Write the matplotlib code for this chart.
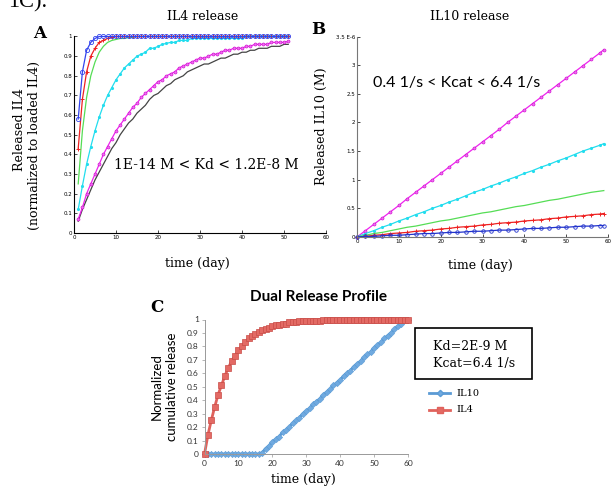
import matplotlib
matplotlib.use("Agg")
import matplotlib.pyplot as plt
from matplotlib.patches import Rectangle
from matplotlib.lines import Line2D

W, H = 616, 487

# ---- panel A: IL4 release, days 1..51 ----
days_a = list(range(1, 52))
il4_blue = [0.58, 0.82, 0.93, 0.97, 0.99] + [1.0] * 46
il4_red = [0.43, 0.68, 0.82, 0.90, 0.94, 0.97, 0.98, 0.99, 0.995] + [1.0] * 42
il4_green = [0.25, 0.52, 0.69, 0.80, 0.87, 0.92, 0.95, 0.97, 0.98, 0.985,
             0.99, 0.99, 0.995, 0.995] + [1.0] * 37
il4_cyan = [0.12, 0.24, 0.35, 0.44, 0.52, 0.59, 0.65, 0.70, 0.74, 0.78,
            0.81, 0.84, 0.86, 0.88, 0.90, 0.91, 0.92, 0.94, 0.94, 0.95,
            0.96, 0.965, 0.97, 0.97, 0.98, 0.98, 0.98, 0.99, 0.99, 0.99] + [0.99] * 10 + [1.0] * 11
il4_magenta = [0.07, 0.13, 0.20, 0.25, 0.30, 0.35, 0.40, 0.44, 0.48, 0.52,
               0.55, 0.58, 0.61, 0.64, 0.66, 0.69, 0.71, 0.73, 0.75, 0.77,
               0.78, 0.80, 0.81, 0.82, 0.84, 0.85, 0.86, 0.87, 0.88, 0.89,
               0.89, 0.90, 0.91, 0.91, 0.92, 0.93, 0.93, 0.94, 0.94, 0.94,
               0.95, 0.95, 0.96, 0.96, 0.96, 0.96, 0.97, 0.97, 0.97, 0.97, 0.975]
il4_black = [0.06, 0.12, 0.17, 0.22, 0.27, 0.31, 0.35, 0.39, 0.43, 0.46,
             0.50, 0.53, 0.56, 0.58, 0.61, 0.63, 0.65, 0.68, 0.70, 0.71,
             0.73, 0.75, 0.76, 0.78, 0.79, 0.80, 0.82, 0.83, 0.84, 0.85,
             0.86, 0.86, 0.87, 0.88, 0.89, 0.89, 0.90, 0.91, 0.91, 0.92,
             0.92, 0.93, 0.93, 0.94, 0.94, 0.94, 0.95, 0.95, 0.95, 0.96, 0.96]

# ---- panel B: IL10 release (x1E-6 M), every 2 days ----
days_b = list(range(0, 59, 2)) + [59]
il10_magenta = [0, 0.11, 0.22, 0.33, 0.44, 0.55, 0.67, 0.78, 0.89, 1.00, 1.11,
                1.22, 1.33, 1.44, 1.55, 1.66, 1.77, 1.88, 2.00, 2.11, 2.22,
                2.33, 2.44, 2.55, 2.66, 2.77, 2.88, 2.99, 3.10, 3.21, 3.27]
il10_cyan = [0, 0.06, 0.11, 0.17, 0.22, 0.28, 0.33, 0.39, 0.44, 0.50, 0.55,
             0.61, 0.66, 0.72, 0.78, 0.83, 0.89, 0.94, 1.00, 1.05, 1.11,
             1.16, 1.22, 1.27, 1.33, 1.38, 1.44, 1.50, 1.55, 1.60, 1.63]
il10_green = [0, 0.03, 0.06, 0.08, 0.11, 0.14, 0.17, 0.19, 0.22, 0.25, 0.28,
              0.30, 0.33, 0.36, 0.39, 0.42, 0.44, 0.47, 0.50, 0.53, 0.55,
              0.58, 0.61, 0.64, 0.66, 0.69, 0.72, 0.75, 0.78, 0.80, 0.81]
il10_red = [0, 0.01, 0.03, 0.04, 0.06, 0.07, 0.08, 0.10, 0.11, 0.12, 0.14,
            0.15, 0.17, 0.18, 0.19, 0.21, 0.22, 0.24, 0.25, 0.26, 0.28,
            0.29, 0.30, 0.32, 0.33, 0.35, 0.36, 0.37, 0.39, 0.40, 0.41]
il10_blue = [0, 0.01, 0.01, 0.02, 0.03, 0.03, 0.04, 0.05, 0.06, 0.06, 0.07,
             0.08, 0.08, 0.09, 0.10, 0.10, 0.11, 0.12, 0.12, 0.13, 0.14,
             0.15, 0.15, 0.16, 0.17, 0.17, 0.18, 0.19, 0.19, 0.20, 0.20]

# ---- panel C: dual release, days 0..60 ----
days_c = list(range(0, 61))
dual_il4 = [0, 0.14, 0.25, 0.35, 0.44, 0.51, 0.58, 0.64, 0.69, 0.73, 0.77,
            0.80, 0.83, 0.86, 0.88, 0.89, 0.91, 0.92, 0.93, 0.94, 0.95,
            0.96, 0.96, 0.97, 0.97, 0.98, 0.98, 0.98, 0.99, 0.99, 0.99,
            0.99, 0.99, 0.99, 0.99] + [1.0] * 26
dual_il10 = [0] * 17 + [0.01, 0.04, 0.06, 0.09, 0.11, 0.13, 0.16, 0.18, 0.20,
                        0.23, 0.25, 0.27, 0.30, 0.32, 0.34, 0.37, 0.39, 0.41,
                        0.44, 0.46, 0.48, 0.51, 0.53, 0.55, 0.58, 0.60, 0.62,
                        0.65, 0.67, 0.69, 0.72, 0.74, 0.76, 0.79, 0.81, 0.83,
                        0.86, 0.88, 0.90, 0.93, 0.95, 0.97, 1.00, 1.00]

SERIF = "DejaVu Serif"
SANS = "Lato"


def px(x, y):
    return x / W, 1 - y / H


def rect(l, t, r, b):
    return [l / W, 1 - b / H, (r - l) / W, (b - t) / H]


fig = plt.figure(figsize=(W / 100, H / 100), dpi=100)


def matlab_axes(ax):
    for s in ["top", "right"]:
        ax.spines[s].set_visible(False)
    for s in ["left", "bottom"]:
        ax.spines[s].set_linewidth(0.8)
    ax.tick_params(direction="in", length=2, width=0.5, labelsize=4, pad=1.5)
    ax.set_xlim(0, 60)
    ax.set_xticks(range(0, 61, 10))


# panel A
ax_a = fig.add_axes(rect(74, 36.5, 326, 233))
matlab_axes(ax_a)
ax_a.set_ylim(0, 1)
ax_a.set_yticks([i / 10 for i in range(11)])
ax_a.set_yticklabels(["0"] + ["%.1f" % (i / 10) for i in range(1, 10)] + ["1"])
ax_a.plot(days_a, il4_black, color="#444444", lw=0.9, clip_on=False)
ax_a.plot(days_a, il4_magenta, color="#ee22ee", lw=0.9, marker="o", ms=2.2,
          mfc="#f070f0", mec="#cc00cc", mew=0.4, clip_on=False)
ax_a.plot(days_a, il4_cyan, color="#22ddee", lw=0.9, marker=".", ms=2.5, clip_on=False)
ax_a.plot(days_a, il4_green, color="#55dd55", lw=0.9, clip_on=False)
ax_a.plot(days_a, il4_red, color="#ee2222", lw=0.9, marker="+", ms=3, mew=0.7, clip_on=False)
ax_a.plot(days_a, il4_blue, color="#3344ee", lw=0.9, marker="o", ms=3,
          mfc="none", mec="#3344ee", mew=0.6, clip_on=False)

# panel B
ax_b = fig.add_axes(rect(357, 36.5, 608, 237))
matlab_axes(ax_b)
for s in ["left", "bottom"]:
    ax_b.spines[s].set_color("#777777")
ax_b.set_ylim(0, 3.5)
ax_b.set_yticks([0, 0.5, 1, 1.5, 2, 2.5, 3, 3.5])
ax_b.set_yticklabels(["0", "0.5", "1", "1.5", "2", "2.5", "3", "3.5 E-6"])
ax_b.plot(days_b, il10_magenta, color="#ee22ee", lw=0.9, marker="o", ms=2.2,
          mfc="#f070f0", mec="#cc00cc", mew=0.4, clip_on=False)
ax_b.plot(days_b, il10_cyan, color="#22ddee", lw=0.9, marker=".", ms=2.5, clip_on=False)
ax_b.plot(days_b, il10_green, color="#55dd55", lw=0.9, clip_on=False)
ax_b.plot(days_b, il10_red, color="#ee2222", lw=0.9, marker="+", ms=3, mew=0.7, clip_on=False)
ax_b.plot(days_b, il10_blue, color="#2233cc", lw=0.9, marker="o", ms=2.5,
          mfc="none", mec="#2233cc", mew=0.6, clip_on=False)

# panel C
ax_c = fig.add_axes(rect(204.5, 319.5, 408, 454))
for s in ["top", "right"]:
    ax_c.spines[s].set_visible(False)
for s in ["left", "bottom"]:
    ax_c.spines[s].set_color("#999999")
    ax_c.spines[s].set_linewidth(0.7)
ax_c.set_xlim(0, 60)
ax_c.set_ylim(0, 1)
ax_c.set_xticks(range(0, 61, 10))
ax_c.set_yticks([i / 10 for i in range(11)])
ax_c.set_yticklabels(["0"] + ["%.1f" % (i / 10) for i in range(1, 10)] + ["1"])
ax_c.tick_params(direction="out", length=2, width=0.5, color="#999999",
                 labelsize=6, labelcolor="#333333", pad=2)
for lab in ax_c.get_xticklabels() + ax_c.get_yticklabels():
    lab.set_fontfamily(SANS)
ax_c.plot(days_c, dual_il10, color="#5b9bd5", lw=2, marker="D", ms=3.2,
          mfc="#70aae0", mec="#5b9bd5", mew=0.4, clip_on=False)
ax_c.plot(days_c, dual_il4, color="#e0625c", lw=2, marker="s", ms=5,
          mfc="#e36a64", mec="#c84c47", mew=0.5, clip_on=False)

# legend for C
for y, col, mk, ms, mfc, name in [(393, "#5b9bd5", "D", 3.2, "#70aae0", "IL10"),
                                   (410, "#e0625c", "s", 5, "#e36a64", "IL4")]:
    x0, y0 = px(429, y)
    x1, _ = px(450, y)
    fig.add_artist(Line2D([x0, x1], [y0, y0], transform=fig.transFigure, color=col, lw=2))
    fig.add_artist(Line2D([(x0 + x1) / 2], [y0], transform=fig.transFigure, marker=mk,
                          ms=ms, mfc=mfc, mec=col, color=col))
    fig.text(*px(456, y), name, family=SERIF, fontsize=7, va="center", ha="left")

bx, by = px(415, 379)
fig.add_artist(Rectangle((bx, by), 117 / W, 51 / H, transform=fig.transFigure,
                         fill=False, lw=1.2, ec="black"))
fig.text(*px(433, 347), "Kd=2E-9 M", family=SERIF, fontsize=9, va="center", ha="left")
fig.text(*px(433, 363), "Kcat=6.4 1/s", family=SERIF, fontsize=9, va="center", ha="left")

# texts
fig.text(*px(8, 7), "1C).", family="Liberation Serif", fontsize=16, va="baseline", ha="left")
fig.text(*px(40, 33), "A", family=SERIF, fontsize=12, weight="bold", ha="center", va="center")
fig.text(*px(318, 30), "B", family=SERIF, fontsize=12, weight="bold", ha="center", va="center")
fig.text(*px(157, 307), "C", family=SERIF, fontsize=12, weight="bold", ha="center", va="center")
fig.text(*px(203, 16), "IL4 release", family=SERIF, fontsize=9, ha="center", va="center")
fig.text(*px(470, 17), "IL10 release", family=SERIF, fontsize=9, ha="center", va="center")
fig.text(*px(206, 165), "1E-14 M < Kd < 1.2E-8 M", family=SERIF, fontsize=10, ha="center", va="center")
fig.text(*px(457, 83), "0.4 1/s < Kcat < 6.4 1/s", family=SANS, fontsize=11.5, ha="center", va="center")
fig.text(*px(197, 263), "time (day)", family=SERIF, fontsize=9, ha="center", va="center")
fig.text(*px(480, 265), "time (day)", family=SERIF, fontsize=9, ha="center", va="center")
fig.text(*px(20, 130), "Released IL4", family=SERIF, fontsize=9, rotation=90, ha="center", va="center")
fig.text(*px(34, 145), "(normalized to loaded IL4)", family=SERIF, fontsize=9, rotation=90,
         ha="center", va="center")
fig.text(*px(321, 126), "Released IL10 (M)", family=SERIF, fontsize=9, rotation=90,
         ha="center", va="center")
fig.text(*px(318, 297), "Dual Release Profile", family=SANS, fontsize=11, weight="bold",
         ha="center", va="center")
fig.text(*px(157, 387), "Normalized", family=SANS, fontsize=9.5, rotation=90, ha="center", va="center")
fig.text(*px(172, 387), "cumulative release", family=SANS, fontsize=9.5, rotation=90,
         ha="center", va="center")
fig.text(*px(303, 479), "time (day)", family=SERIF, fontsize=9, ha="center", va="center")

fig.savefig("out.png", dpi=100)
